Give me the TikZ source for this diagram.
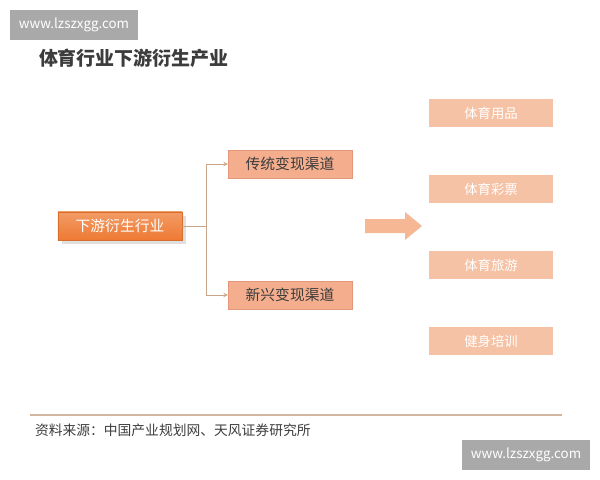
\documentclass[tikz,border=0pt]{standalone}
\usepackage{fontspec}
\setmainfont{Noto Sans CJK SC}
\usetikzlibrary{arrows, positioning, shadows}
\definecolor{mainorange}{HTML}{EE7A33}
\definecolor{chansalmon}{HTML}{F4AE8E}
\definecolor{chanedge}{HTML}{E3977A}
\definecolor{palesalmon}{HTML}{F6C2A5}
\definecolor{linetan}{HTML}{C8A488}
\definecolor{textgray}{HTML}{3C3C3C}
\definecolor{markgray}{HTML}{A9A9A9}
\tikzstyle{mainbox} = [rectangle, minimum width=3.1cm, minimum height=0.7cm, text centered, top color=mainorange!75!white, bottom color=mainorange, draw=mainorange!90!black, drop shadow={opacity=0.25}, text=white, font=\fontsize{10.5}{12}\selectfont]
\tikzstyle{chanbox} = [rectangle, minimum width=3.1cm, minimum height=0.7cm, text centered, draw=chanedge, fill=chansalmon, text=textgray, font=\fontsize{10.5}{12}\selectfont]
\tikzstyle{itembox} = [rectangle, minimum width=3.1cm, minimum height=0.7cm, text centered, fill=palesalmon, text=white, font=\fontsize{9.5}{11}\selectfont]
\tikzstyle{markbox} = [rectangle, minimum width=3.2cm, minimum height=0.75cm, fill=markgray, text=white, font=\fontsize{9.5}{11}\selectfont]
\tikzstyle{arrow} = [linetan, line width=0.5pt, ->, >=stealth]

\begin{document}
\begin{tikzpicture}[x=0.025cm, y=-0.025cm, every node/.style={inner sep=0pt, outer sep=0pt}]
\useasboundingbox (0,0) rectangle (600,480);

% Watermarks
\node (marktop) [markbox] at (74,25) {www.lzszxgg.com};
\node (markbottom) [markbox] at (526,455) {www.lzszxgg.com};

% Title
\node (title) [anchor=west, text=textgray, font=\fontsize{13.5}{16}\selectfont\bfseries] at (39,58) {体育行业下游衍生产业};

% Downstream industry
\node (downstream) [mainbox] at (120,226) {下游衍生行业};

% Channels
\node (traditional) [chanbox] at (290,164) {传统变现渠道};
\node (emerging) [chanbox] at (290,295) {新兴变现渠道};

% Branch
\coordinate (fork) at (206,226);
\draw [linetan, line width=0.5pt] (downstream.east) -- (fork);
\draw [arrow] (fork) |- (traditional.west);
\draw [arrow] (fork) |- (emerging.west);

% Big arrow
\fill [palesalmon!85!mainorange] (365,219) -- (405,219) -- (405,212) -- (422,226) -- (405,240) -- (405,233) -- (365,233) -- cycle;

% Derived items
\node (goods) [itembox] at (491,113) {体育用品};
\node (lottery) [itembox] at (491,189) {体育彩票};
\node (tourism) [itembox] at (491,265) {体育旅游};
\node (training) [itembox] at (491,341) {健身培训};

% Source
\coordinate (ruleleft) at (30,415);
\coordinate (ruleright) at (562,415);
\draw [linetan!80, line width=0.8pt] (ruleleft) -- (ruleright);
\node (source) [anchor=west, text=textgray, font=\fontsize{9.8}{12}\selectfont] at (35,430) {资料来源：中国产业规划网、天风证券研究所};

\end{tikzpicture}
\end{document}
